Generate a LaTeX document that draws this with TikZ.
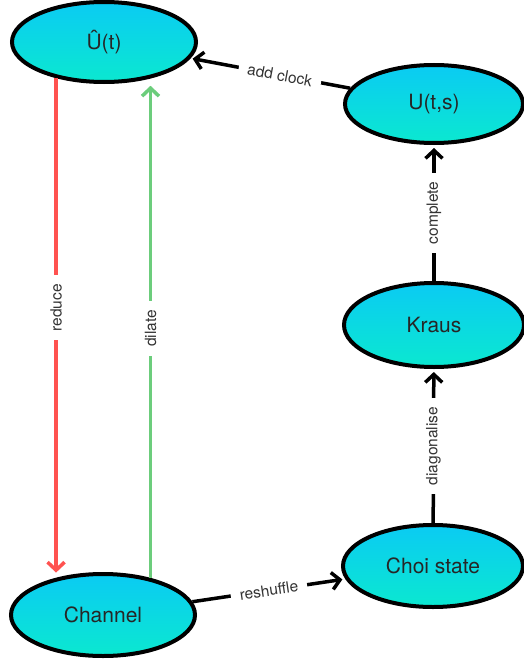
\documentclass[tikz,border=0pt]{standalone}
\usepackage{fontspec}
\setmainfont{TeX Gyre Heros}
\usetikzlibrary{shapes.geometric}
\usetikzlibrary{arrows.meta}

\definecolor{topcyan}{HTML}{0BCBF3}
\definecolor{botcyan}{HTML}{0BE8D0}
\definecolor{redline}{HTML}{FF5250}
\definecolor{greenline}{HTML}{6CCD7C}
\definecolor{lbltext}{HTML}{333333}

\tikzset{
  state/.style={ellipse, draw=black, line width=4pt, top color=topcyan,
    bottom color=botcyan, minimum width=184pt, minimum height=80pt,
    font=\fontsize{21}{24}\selectfont, text=black!85},
  conn/.style={line width=3.5pt, -{Straight Barb[length=8pt,width=17pt]}},
  lbl/.style={fill=white, inner xsep=9pt, inner ysep=4pt, text=lbltext,
    font=\fontsize{15.5}{18}\selectfont}
}

\begin{document}
\begin{tikzpicture}[x=1pt,y=-1pt]
  \useasboundingbox (0,0) rectangle (524,661);
  \node[state] (uhat) at (104,42) {Û(t)};
  \node[state, minimum width=178pt, minimum height=78pt] (uts) at (434,104) {U(t,s)};
  \node[state, minimum width=180pt, minimum height=84pt] (kraus) at (434,325) {Kraus};
  \node[state, minimum width=180pt, minimum height=82pt] (choi) at (433,566) {Choi state};
  \node[state, minimum height=82pt] (channel) at (103,615) {Channel};
  % left column
  \draw[conn, redline, shorten >=5pt] (uhat.217) -- (uhat.217 |- channel.141)
    node[lbl, pos=0.46, rotate=90] {reduce};
  \draw[conn, greenline, shorten >=7pt] (channel.38) -- (channel.38 |- uhat.321)
    node[lbl, midway, rotate=90] {dilate};
  % right column
  \draw[conn, shorten >=3pt] (choi) -- (kraus)
    node[lbl, midway, rotate=90] {diagonalise};
  \draw[conn, shorten >=3pt] (kraus) -- (uts)
    node[lbl, midway, rotate=90] {complete};
  \draw[conn, shorten >=2pt] (uts) -- (uhat)
    node[lbl, pos=0.44, sloped] {add clock};
  \draw[conn, shorten >=3pt] (channel) -- (choi)
    node[lbl, midway, sloped] {reshuffle};
\end{tikzpicture}
\end{document}
